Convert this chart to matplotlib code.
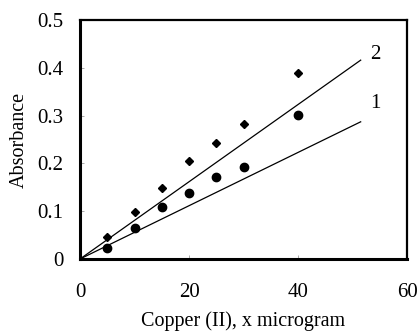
import matplotlib
matplotlib.use("Agg")
import matplotlib.pyplot as plt

# calibration data
copper_ug = [5, 10, 15, 20, 25, 30, 40]
absorb_1 = [0.024, 0.064, 0.109, 0.138, 0.171, 0.193, 0.301]  # circles
absorb_2 = [0.045, 0.099, 0.148, 0.204, 0.243, 0.283, 0.390]  # diamonds

# fitted straight lines (end points)
fit_x = [0, 51.5]
fit_1 = [0, 0.287]
fit_2 = [0, 0.416]

x_ticks = [0, 20, 40, 60]
y_ticks = [0, 0.1, 0.2, 0.3, 0.4, 0.5]
y_tick_labels = ["0", "0.1", "0.2", "0.3", "0.4", "0.5"]

plt.rcParams["font.family"] = ["Liberation Serif", "DejaVu Serif"]

fig = plt.figure(figsize=(4.18, 3.32), dpi=100)
ax = fig.add_axes([0.1914, 0.2199, 0.7823, 0.7199])

ax.plot(fit_x, fit_1, color="black", lw=0.9)
ax.plot(fit_x, fit_2, color="black", lw=0.9)
ax.plot(copper_ug, absorb_1, "o", color="black", ms=6)
ax.plot(copper_ug, absorb_2, "D", color="black", ms=3.6)

ax.text(53.3, 0.427, "2", fontsize=15, va="center", ha="left")
ax.text(53.3, 0.326, "1", fontsize=15, va="center", ha="left")

ax.set_xlim(0, 60)
ax.set_ylim(0, 0.5)
ax.set_xticks(x_ticks)
ax.set_yticks(y_ticks)
ax.set_yticklabels(y_tick_labels)
ax.tick_params(direction="in", length=3, width=0.5, color="#888888",
               labelsize=15, pad=0)
ax.tick_params(axis="x", pad=17)
ax.tick_params(axis="y", pad=12)

for side in ["left", "bottom"]:
    ax.spines[side].set_linewidth(2.2)
for side in ["top", "right"]:
    ax.spines[side].set_linewidth(1.6)

ax.set_xlabel("Copper (II), x microgram", fontsize=14.5, labelpad=7)
ax.set_ylabel("Absorbance", fontsize=14.5, labelpad=6)

fig.savefig("out.png", dpi=100)
